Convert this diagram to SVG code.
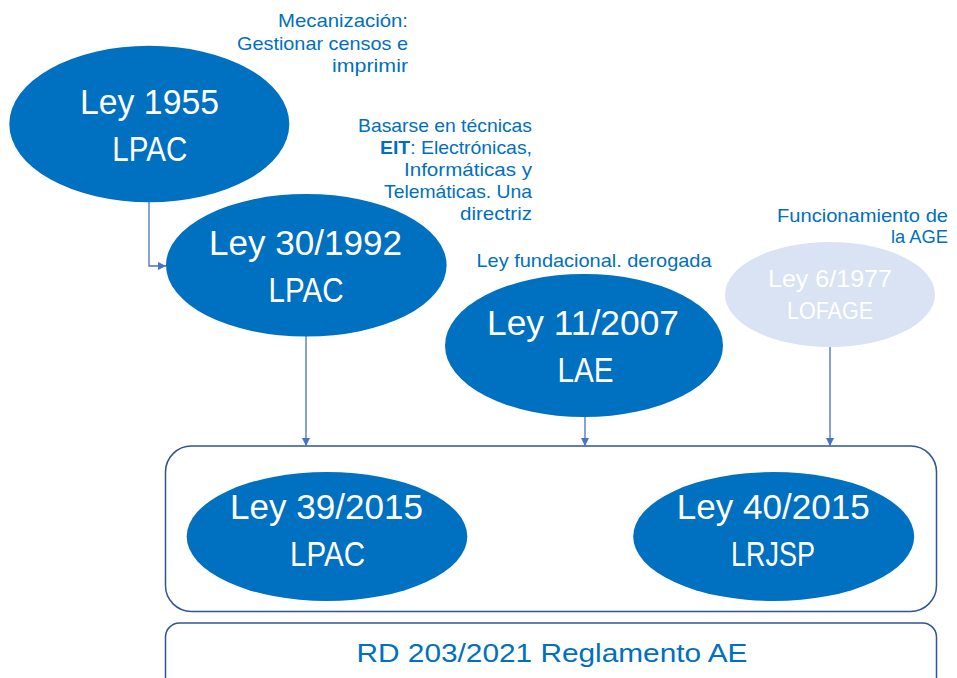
<svg xmlns="http://www.w3.org/2000/svg" width="957" height="678" viewBox="0 0 957 678">
<defs>
<marker id="arr" viewBox="0 0 10 10" refX="10" refY="5" markerWidth="8" markerHeight="8" markerUnits="userSpaceOnUse" orient="auto">
<path d="M0,0 L10,5 L0,10 Z" fill="#4472c4"/>
</marker>
<style>
.el{fill:#0070c0}
.el2{fill:#dae3f3}
.big{font-family:"Liberation Sans",Arial,sans-serif;font-size:35px;fill:#ffffff;text-anchor:middle}
.mid{font-family:"Liberation Sans",Arial,sans-serif;font-size:24.5px;fill:#ffffff;text-anchor:middle}
.note{font-family:"Liberation Sans",Arial,sans-serif;font-size:18.5px;fill:#0070c0;text-anchor:end}
.notec{font-family:"Liberation Sans",Arial,sans-serif;font-size:18.5px;fill:#0070c0;text-anchor:middle}
.box{fill:none;stroke:#2f5597;stroke-width:1.5}
.con{fill:none;stroke:#4472c4;stroke-width:1.3}
.rd{font-family:"Liberation Sans",Arial,sans-serif;font-size:26.5px;fill:#0070c0;text-anchor:middle}
</style>
</defs>
<rect width="957" height="678" fill="#ffffff"/>

<g id="annot-mecanizacion">
<text class="note" x="408" y="27" textLength="130" lengthAdjust="spacingAndGlyphs">Mecanización:</text>
<text class="note" x="408" y="49.5" textLength="171" lengthAdjust="spacingAndGlyphs">Gestionar censos e</text>
<text class="note" x="408" y="71.5" textLength="76" lengthAdjust="spacingAndGlyphs">imprimir</text>
</g>

<g id="annot-eit">
<text class="note" x="532" y="132" textLength="174" lengthAdjust="spacingAndGlyphs">Basarse en técnicas</text>
<text class="note" x="532" y="154" textLength="152" lengthAdjust="spacingAndGlyphs"><tspan font-weight="bold">EIT</tspan>: Electrónicas,</text>
<text class="note" x="532" y="176" textLength="128" lengthAdjust="spacingAndGlyphs">Informáticas y</text>
<text class="note" x="532" y="198" textLength="148" lengthAdjust="spacingAndGlyphs">Telemáticas. Una</text>
<text class="note" x="532" y="220" textLength="72" lengthAdjust="spacingAndGlyphs">directriz</text>
</g>

<g id="annot-fundacional">
<text class="notec" x="594" y="266.5" textLength="235" lengthAdjust="spacingAndGlyphs">Ley fundacional. derogada</text>
</g>

<g id="annot-age">
<text class="note" x="948" y="221.5" textLength="171" lengthAdjust="spacingAndGlyphs">Funcionamiento de</text>
<text class="note" x="948" y="243" textLength="57" lengthAdjust="spacingAndGlyphs">la AGE</text>
</g>

<g id="box-2015">
<rect class="box" x="165.5" y="446" width="771" height="165.5" rx="26" ry="26"/>
</g>

<g id="box-rd">
<rect class="box" x="165.5" y="623" width="771" height="80" rx="14" ry="14"/>
<text class="rd" x="552" y="661.5" textLength="391" lengthAdjust="spacingAndGlyphs">RD 203/2021 Reglamento AE</text>
</g>

<g id="connectors">
<path class="con" d="M149,202 V266 H166" marker-end="url(#arr)"/>
<path class="con" d="M306,336 V446" marker-end="url(#arr)"/>
<path class="con" d="M585,417 V446" marker-end="url(#arr)"/>
<path class="con" d="M830,347 V446" marker-end="url(#arr)"/>
</g>

<g id="ley1955">
<ellipse class="el" cx="149.3" cy="124" rx="140" ry="78.3"/>
<text class="big" x="149.5" y="114" textLength="139" lengthAdjust="spacingAndGlyphs">Ley 1955</text>
<text class="big" x="149.8" y="161" textLength="75" lengthAdjust="spacingAndGlyphs">LPAC</text>
</g>

<g id="ley30-1992">
<ellipse class="el" cx="306.3" cy="265.3" rx="140.3" ry="71.3"/>
<text class="big" x="305.5" y="255" textLength="193" lengthAdjust="spacingAndGlyphs">Ley 30/1992</text>
<text class="big" x="306" y="302" textLength="75" lengthAdjust="spacingAndGlyphs">LPAC</text>
</g>

<g id="ley11-2007">
<ellipse class="el" cx="584" cy="345.5" rx="139" ry="71.5"/>
<text class="big" x="583" y="335" textLength="192" lengthAdjust="spacingAndGlyphs">Ley 11/2007</text>
<text class="big" x="585.5" y="382" textLength="56" lengthAdjust="spacingAndGlyphs">LAE</text>
</g>

<g id="ley6-1977">
<ellipse class="el2" cx="830" cy="294.5" rx="105" ry="52.5"/>
<text class="mid" x="830" y="287" textLength="124" lengthAdjust="spacingAndGlyphs">Ley 6/1977</text>
<text class="mid" x="830" y="319" textLength="86" lengthAdjust="spacingAndGlyphs">LOFAGE</text>
</g>

<g id="ley39-2015">
<ellipse class="el" cx="327" cy="536.5" rx="140.3" ry="64.5"/>
<text class="big" x="326.5" y="519" textLength="193" lengthAdjust="spacingAndGlyphs">Ley 39/2015</text>
<text class="big" x="327.5" y="565.5" textLength="75" lengthAdjust="spacingAndGlyphs">LPAC</text>
</g>

<g id="ley40-2015">
<ellipse class="el" cx="773.7" cy="536.5" rx="140.5" ry="64.5"/>
<text class="big" x="773.3" y="519" textLength="193" lengthAdjust="spacingAndGlyphs">Ley 40/2015</text>
<text class="big" x="773" y="565.5" textLength="84" lengthAdjust="spacingAndGlyphs">LRJSP</text>
</g>
</svg>
